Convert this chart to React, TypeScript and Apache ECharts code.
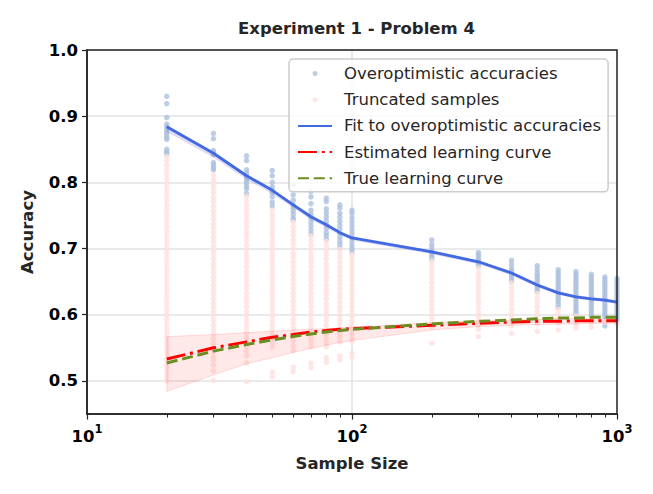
import React, { useEffect, useRef } from 'react';
import * as echarts from 'echarts';

const sampleSizes = [20, 30, 40, 50, 60, 70, 80, 90, 100, 200, 300, 400, 500, 600, 700, 800, 900, 1000];

const fitCurve = [0.884, 0.844, 0.810, 0.788, 0.766, 0.748, 0.736, 0.724, 0.716, 0.695, 0.680, 0.663, 0.645, 0.633, 0.627, 0.624, 0.622, 0.619];
const fitLow = [0.877, 0.838, 0.805, 0.783, 0.762, 0.744, 0.732, 0.721, 0.713, 0.692, 0.677, 0.660, 0.642, 0.631, 0.625, 0.622, 0.620, 0.617];
const fitHigh = [0.886, 0.846, 0.812, 0.790, 0.768, 0.750, 0.738, 0.726, 0.718, 0.697, 0.682, 0.665, 0.647, 0.635, 0.629, 0.626, 0.624, 0.621];

const estimatedCurve = [0.533, 0.550, 0.559, 0.566, 0.570, 0.574, 0.576, 0.578, 0.579, 0.584, 0.587, 0.589, 0.590, 0.590, 0.591, 0.591, 0.591, 0.591];
const trueCurve = [0.527, 0.545, 0.555, 0.562, 0.567, 0.571, 0.574, 0.576, 0.578, 0.586, 0.590, 0.592, 0.594, 0.595, 0.595, 0.596, 0.596, 0.596];
const bandLow = [0.484, 0.509, 0.526, 0.535, 0.543, 0.549, 0.554, 0.558, 0.561, 0.577, 0.582, 0.584, 0.585, 0.586, 0.586, 0.587, 0.587, 0.587];
const bandHigh = [0.567, 0.570, 0.573, 0.575, 0.577, 0.578, 0.579, 0.580, 0.581, 0.588, 0.591, 0.592, 0.593, 0.594, 0.594, 0.594, 0.594, 0.594];

const overoptimistic: number[][] = [
  [0.930, 0.919, 0.898, 0.888, 0.884, 0.880, 0.876, 0.872, 0.868, 0.865, 0.850, 0.846, 0.843],
  [0.874, 0.866, 0.848, 0.845, 0.842, 0.830, 0.826, 0.822, 0.819],
  [0.840, 0.833, 0.819, 0.814, 0.810, 0.806, 0.802, 0.799, 0.794, 0.790, 0.783],
  [0.818, 0.810, 0.800, 0.793, 0.789, 0.784, 0.778, 0.770, 0.764],
  [0.796, 0.781, 0.773, 0.766, 0.761, 0.756, 0.751, 0.746, 0.743],
  [0.786, 0.778, 0.768, 0.758, 0.752, 0.746, 0.740, 0.734, 0.728, 0.722],
  [0.776, 0.771, 0.760, 0.754, 0.748, 0.742, 0.736, 0.730, 0.724, 0.719, 0.714],
  [0.766, 0.761, 0.753, 0.747, 0.741, 0.735, 0.729, 0.723, 0.717, 0.711, 0.706, 0.701],
  [0.758, 0.753, 0.746, 0.740, 0.734, 0.728, 0.722, 0.716, 0.710, 0.704, 0.699, 0.694],
  [0.713, 0.706, 0.701, 0.696, 0.692, 0.688, 0.684],
  [0.694, 0.690, 0.686, 0.682, 0.678, 0.674],
  [0.682, 0.676, 0.670, 0.666, 0.662, 0.658, 0.654, 0.650],
  [0.674, 0.668, 0.663, 0.659, 0.655, 0.651, 0.647, 0.643, 0.639, 0.635],
  [0.668, 0.664, 0.660, 0.656, 0.652, 0.648, 0.644, 0.640, 0.636, 0.632, 0.628, 0.624, 0.620, 0.616, 0.611],
  [0.665, 0.661, 0.657, 0.653, 0.649, 0.645, 0.641, 0.637, 0.633, 0.629, 0.625, 0.621, 0.617, 0.613, 0.609, 0.605, 0.601],
  [0.661, 0.657, 0.653, 0.649, 0.645, 0.641, 0.637, 0.633, 0.629, 0.625, 0.621, 0.617, 0.613, 0.609, 0.605, 0.601, 0.598],
  [0.657, 0.653, 0.649, 0.645, 0.641, 0.637, 0.633, 0.629, 0.625, 0.621, 0.617, 0.613, 0.609, 0.605, 0.601, 0.597, 0.583],
  [0.655, 0.651, 0.647, 0.643, 0.639, 0.635, 0.631, 0.627, 0.623, 0.619, 0.615, 0.611, 0.607, 0.603, 0.599, 0.595, 0.591],
];

const truncated: number[][] = [
  [0.839, 0.833, 0.826, 0.818, 0.812, 0.805, 0.798, 0.792, 0.785, 0.779, 0.772, 0.765, 0.759, 0.752, 0.746, 0.739, 0.732, 0.726, 0.719, 0.712, 0.706, 0.699, 0.693, 0.686, 0.679, 0.672, 0.666, 0.659, 0.652, 0.646, 0.639, 0.633, 0.626, 0.619, 0.612, 0.606, 0.599, 0.593, 0.586, 0.579, 0.573, 0.566, 0.559, 0.553, 0.546, 0.540, 0.533, 0.526, 0.520, 0.513, 0.506, 0.500],
  [0.811, 0.804, 0.797, 0.791, 0.784, 0.777, 0.771, 0.764, 0.757, 0.751, 0.744, 0.737, 0.731, 0.724, 0.717, 0.711, 0.704, 0.697, 0.691, 0.684, 0.677, 0.671, 0.664, 0.657, 0.651, 0.644, 0.637, 0.631, 0.624, 0.617, 0.611, 0.604, 0.597, 0.591, 0.584, 0.577, 0.571, 0.564, 0.557, 0.551, 0.544, 0.537, 0.531, 0.524, 0.515, 0.501],
  [0.779, 0.772, 0.765, 0.759, 0.752, 0.745, 0.739, 0.732, 0.725, 0.719, 0.712, 0.705, 0.699, 0.692, 0.685, 0.679, 0.672, 0.665, 0.659, 0.652, 0.645, 0.639, 0.632, 0.625, 0.619, 0.612, 0.605, 0.599, 0.592, 0.585, 0.579, 0.572, 0.565, 0.559, 0.552, 0.545, 0.538, 0.527, 0.499],
  [0.758, 0.751, 0.744, 0.738, 0.731, 0.724, 0.718, 0.711, 0.704, 0.698, 0.691, 0.684, 0.678, 0.671, 0.664, 0.658, 0.651, 0.644, 0.638, 0.631, 0.624, 0.618, 0.611, 0.604, 0.598, 0.591, 0.584, 0.578, 0.571, 0.564, 0.558, 0.551, 0.513, 0.506],
  [0.740, 0.733, 0.727, 0.720, 0.713, 0.707, 0.700, 0.693, 0.687, 0.680, 0.673, 0.667, 0.660, 0.653, 0.647, 0.640, 0.633, 0.627, 0.620, 0.613, 0.607, 0.600, 0.593, 0.587, 0.580, 0.573, 0.567, 0.560, 0.553, 0.546, 0.521, 0.514],
  [0.719, 0.712, 0.705, 0.699, 0.692, 0.685, 0.679, 0.672, 0.665, 0.659, 0.652, 0.645, 0.639, 0.632, 0.625, 0.619, 0.612, 0.605, 0.599, 0.592, 0.585, 0.579, 0.572, 0.565, 0.559, 0.552, 0.527, 0.520],
  [0.711, 0.704, 0.697, 0.691, 0.684, 0.677, 0.671, 0.664, 0.657, 0.651, 0.644, 0.637, 0.631, 0.624, 0.617, 0.611, 0.604, 0.597, 0.591, 0.584, 0.577, 0.571, 0.564, 0.558, 0.552, 0.535, 0.528],
  [0.699, 0.692, 0.686, 0.679, 0.672, 0.666, 0.659, 0.652, 0.646, 0.639, 0.632, 0.626, 0.619, 0.612, 0.606, 0.599, 0.592, 0.586, 0.579, 0.572, 0.566, 0.559, 0.538, 0.532],
  [0.691, 0.684, 0.678, 0.671, 0.664, 0.658, 0.651, 0.644, 0.638, 0.631, 0.624, 0.618, 0.611, 0.604, 0.598, 0.591, 0.584, 0.578, 0.571, 0.564, 0.560, 0.542, 0.536],
  [0.681, 0.675, 0.668, 0.661, 0.655, 0.648, 0.641, 0.635, 0.628, 0.621, 0.615, 0.608, 0.601, 0.595, 0.588, 0.582, 0.557],
  [0.670, 0.663, 0.657, 0.650, 0.643, 0.637, 0.630, 0.623, 0.617, 0.610, 0.603, 0.597, 0.590, 0.584, 0.578, 0.567],
  [0.648, 0.641, 0.635, 0.628, 0.621, 0.615, 0.608, 0.601, 0.595, 0.588, 0.583, 0.572],
  [0.632, 0.625, 0.619, 0.612, 0.605, 0.599, 0.592, 0.586, 0.575],
  [0.608, 0.601, 0.594, 0.587, 0.577],
  [0.598, 0.591, 0.585, 0.580],
  [0.594, 0.588, 0.581],
  [0.589],
  [0.586],
];

const yTicks = [0.5, 0.6, 0.7, 0.8, 0.9, 1.0];
const xMinorTicks = [20, 30, 40, 50, 60, 70, 80, 90, 200, 300, 400, 500, 600, 700, 800, 900];
const xGridLines = [100];

const legendNames = [
  'Overoptimistic accuracies',
  'Truncated samples',
  'Fit to overoptimistic accuracies',
  'Estimated learning curve',
  'True learning curve',
];

const FONT = 'DejaVu Sans';
const FS = 16.5;

const columns = (cols: number[][]) => cols.flatMap((col, i) => col.map((v) => [sampleSizes[i], v]));
const curve = (vals: number[]) => vals.map((v, i) => [sampleSizes[i], v]);

const bandSeries = (name: string, hi: number[], lo: number[], fill: string, stroke: string) => ({
  name,
  type: 'custom',
  silent: true,
  clip: true,
  z: 3,
  data: [[sampleSizes[0], lo[0]]],
  encode: { x: 0, y: 1 },
  renderItem: (_params: any, api: any) => {
    const top = sampleSizes.map((n, i) => api.coord([n, hi[i]]));
    const bottom = sampleSizes.map((n, i) => api.coord([n, lo[i]])).reverse();
    return {
      type: 'polygon',
      shape: { points: top.concat(bottom) },
      style: { fill, stroke, lineWidth: 1 },
    };
  },
});

export default function App() {
  const ref = useRef<HTMLDivElement>(null);
  useEffect(() => {
    if (!ref.current) return;
    const chart = echarts.init(ref.current, null, { renderer: 'svg' });
    const axisColor = '#222222';
    const option: any = {
      animation: false,
      title: {
        text: 'Experiment 1 - Problem 4',
        left: 233,
        top: 15,
        textStyle: { fontFamily: FONT, fontSize: FS, fontWeight: 'bold', color: '#262626' },
      },
      grid: {
        left: 87, right: 36, top: 50, bottom: 80,
        show: true, borderColor: axisColor, borderWidth: 1.5, backgroundColor: 'transparent', z: 10,
      },
      legend: {
        data: legendNames.map((n, i) => (i < 2 ? { name: n } : { name: n, itemStyle: { opacity: 0 } })),
        orient: 'vertical',
        left: 289,
        top: 59,
        itemWidth: 34,
        itemHeight: 5,
        itemGap: 9.2,
        padding: [6, 7, 5, 8],
        backgroundColor: 'rgba(255,255,255,0.8)',
        borderColor: '#cccccc',
        borderWidth: 1.5,
        borderRadius: 4,
        selectedMode: false,
        textStyle: { fontFamily: FONT, fontSize: FS, color: '#262626', padding: [0, 0, 0, 7] },
        z: 20,
      },
      xAxis: [
        {
          type: 'log',
          logBase: 10,
          min: 10,
          max: 1000,
          z: 10,
          name: 'Sample Size',
          nameLocation: 'middle',
          nameGap: 41,
          nameTextStyle: { fontFamily: FONT, fontSize: FS, fontWeight: 'bold', color: '#262626' },
          axisLine: { show: true, lineStyle: { color: axisColor, width: 1.5 } },
          axisTick: { show: true, length: 5.5, lineStyle: { color: axisColor, width: 1.2 } },
          minorTick: { show: false },
          splitLine: { show: false },
          axisLabel: {
            margin: 9,
            formatter: (v: number) => `{b|10}{s|${Math.round(Math.log10(v))}}`,
            rich: {
              b: { fontFamily: FONT, fontSize: FS, fontWeight: 'bold', color: '#000', lineHeight: 22, verticalAlign: 'bottom' },
              s: { fontFamily: FONT, fontSize: 11.5, fontWeight: 'bold', color: '#000', lineHeight: 9, verticalAlign: 'top' },
            },
          },
        },
        {
          type: 'value',
          min: 1,
          max: 3,
          position: 'bottom',
          z: 10,
          axisLine: { show: false },
          axisLabel: { show: false },
          splitLine: { show: false },
          axisTick: {
            show: true,
            length: 3.5,
            customValues: xMinorTicks.map((t) => Math.log10(t)),
            lineStyle: { color: axisColor, width: 1 },
          },
        },
      ],
      yAxis: {
        type: 'value',
        min: 0.45,
        max: 1.0,
        z: 10,
        name: 'Accuracy',
        nameLocation: 'middle',
        nameGap: 51,
        nameTextStyle: { fontFamily: FONT, fontSize: FS, fontWeight: 'bold', color: '#262626' },
        axisLine: { show: true, lineStyle: { color: axisColor, width: 1.5 } },
        axisTick: { show: true, length: 5, customValues: yTicks, lineStyle: { color: axisColor, width: 1.2 } },
        splitLine: { show: false },
        axisLabel: {
          customValues: yTicks,
          margin: 9,
          padding: [4, 0, 0, 0],
          formatter: (v: number) => v.toFixed(1),
          fontFamily: FONT,
          fontSize: FS,
          fontWeight: 'bold',
          color: '#000',
        },
      },
      series: [
        {
          name: 'gridlines',
          type: 'scatter',
          data: [],
          silent: true,
          z: 1,
          markLine: {
            silent: true,
            symbol: 'none',
            z: 1,
            label: { show: false },
            lineStyle: { color: '#e3e3e3', width: 1.5, type: 'solid' },
            data: [
              ...yTicks.map((v) => ({ yAxis: v })),
              ...xGridLines.map((v) => ({ xAxis: v })),
            ],
          },
        },
        {
          name: 'Overoptimistic accuracies',
          type: 'scatter',
          symbol: 'circle',
          symbolSize: 5.5,
          itemStyle: { color: '#abc0df' },
          data: columns(overoptimistic),
          z: 2,
        },
        {
          name: 'Truncated samples',
          type: 'scatter',
          symbol: 'circle',
          symbolSize: 5.5,
          itemStyle: { color: '#ffe0dd' },
          data: columns(truncated),
          z: 2,
        },
        bandSeries('band', bandHigh, bandLow, 'rgba(255,0,0,0.09)', 'rgba(255,0,0,0.12)'),
        bandSeries('fitband', fitHigh, fitLow, 'rgba(110,100,220,0.22)', 'rgba(110,100,220,0.1)'),
        {
          name: 'Fit to overoptimistic accuracies',
          type: 'line',
          symbol: 'none',
          lineStyle: { color: '#4169e1', width: 2.8 },
          itemStyle: { color: '#4169e1' },
          data: curve(fitCurve),
          z: 4,
        },
        {
          name: 'Estimated learning curve',
          type: 'line',
          symbol: 'none',
          lineStyle: { color: '#ff0000', width: 3, type: [19, 4.8, 3, 4.8] },
          itemStyle: { color: '#ff0000' },
          data: curve(estimatedCurve),
          z: 4,
        },
        {
          name: 'True learning curve',
          type: 'line',
          symbol: 'none',
          lineStyle: { color: '#6b8e23', width: 3, type: [11, 4.8] },
          itemStyle: { color: '#6b8e23' },
          data: curve(trueCurve),
          z: 4,
        },
      ],
    };
    chart.setOption(option);
    return () => chart.dispose();
  }, []);
  return <div ref={ref} style={{ position: 'absolute', left: 0, top: 0, width: 653, height: 494 }} />;
}
